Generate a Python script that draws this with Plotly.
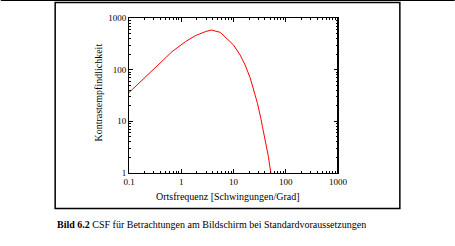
import plotly.graph_objects as go

# Data (spatial frequency in cycles/degree vs. contrast sensitivity)
freq = [0.1, 0.166, 0.37, 0.667, 1.2, 1.86, 2.88, 3.75, 5.57, 7.48, 10, 13.4,
        16.7, 20.8, 23.1, 25.9, 28.7, 30.9, 33.3, 35.8, 40.3, 46.6, 51.8]
sens = [36, 58.6, 123, 223, 348, 455, 543, 586, 528, 405, 301, 192,
        123, 70, 50.6, 32.4, 22.4, 16.6, 11.5, 7.9, 4.37, 2.07, 1.0]

x_ticks = [0.1, 1, 10, 100, 1000]
x_ticklabels = ["0.1", "1", "10", "100", "1000"]
y_ticks = [1, 10, 100, 1000]
y_ticklabels = ["1", "10", "100", "1000"]

x_title = "Ortsfrequenz [Schwingungen/Grad]"
y_title = "Kontrastempfindlichkeit"
caption_bold = "Bild 6.2"
caption_rest = " CSF für Betrachtungen am Bildschirm bei Standardvoraussetzungen"

W, H = 455, 246
L, R, T, B = 128.5, 338, 18, 173  # plot area in pixels
pw, ph = R - L, B - T

def px(x):
    return (x - L) / pw

def py(y):
    return (B - y) / ph

def minor_vals(ticks):
    return [t * k for t in ticks[:-1] for k in range(2, 10)]

FONT = "Liberation Serif"

fig = go.Figure()
fig.add_trace(go.Scatter(x=freq, y=sens, mode="lines",
                         line=dict(color="#ff0000", width=1), showlegend=False))

axis_common = dict(
    type="log", showgrid=False, zeroline=False, showline=True,
    linecolor="black", linewidth=1, mirror="allticks",
    ticks="inside", ticklen=4, tickcolor="black", tickwidth=1,
    tickfont=dict(family=FONT, size=9, color="black"),
)

fig.update_xaxes(range=[-1, 3], tickvals=x_ticks, ticktext=x_ticklabels,
                 minor=dict(tickvals=minor_vals(x_ticks), ticks="inside", ticklen=2,
                            tickcolor="black", showgrid=False),
                 **axis_common)
fig.update_yaxes(range=[0, 3], tickvals=y_ticks, ticktext=y_ticklabels,
                 minor=dict(tickvals=minor_vals(y_ticks), ticks="inside", ticklen=2,
                            tickcolor="black", showgrid=False),
                 **axis_common)

shapes = [
    # outer frame
    dict(type="rect", xref="paper", yref="paper",
         x0=px(54.5), x1=px(400), y0=py(208.5), y1=py(2.5),
         line=dict(color="black", width=1.5), fillcolor="rgba(0,0,0,0)"),
    # top rule across the page
    dict(type="line", xref="paper", yref="paper",
         x0=px(0), x1=px(W), y0=py(0.5), y1=py(0.5),
         line=dict(color="black", width=1)),
    # thicker right axis
    dict(type="line", xref="paper", yref="paper",
         x0=1, x1=1, y0=0, y1=1, line=dict(color="black", width=2)),
]

annotations = [
    dict(text=x_title, xref="paper", yref="paper", x=px(228), y=py(196),
         showarrow=False, xanchor="center", yanchor="middle",
         font=dict(family=FONT, size=10, color="black")),
    dict(text=y_title, xref="paper", yref="paper", x=px(97), y=py(93),
         showarrow=False, xanchor="center", yanchor="middle", textangle=-90,
         font=dict(family=FONT, size=10, color="black")),
    dict(text="<b>" + caption_bold + "</b>" + caption_rest, xref="paper", yref="paper",
         x=px(54), y=py(224), showarrow=False, xanchor="left", yanchor="middle",
         font=dict(family=FONT, size=10, color="black")),
]

fig.update_layout(
    width=W, height=H,
    margin=dict(l=L, r=W - R, t=T, b=H - B, pad=0),
    paper_bgcolor="white", plot_bgcolor="white",
    shapes=shapes, annotations=annotations,
)

fig.write_html("out.html")
